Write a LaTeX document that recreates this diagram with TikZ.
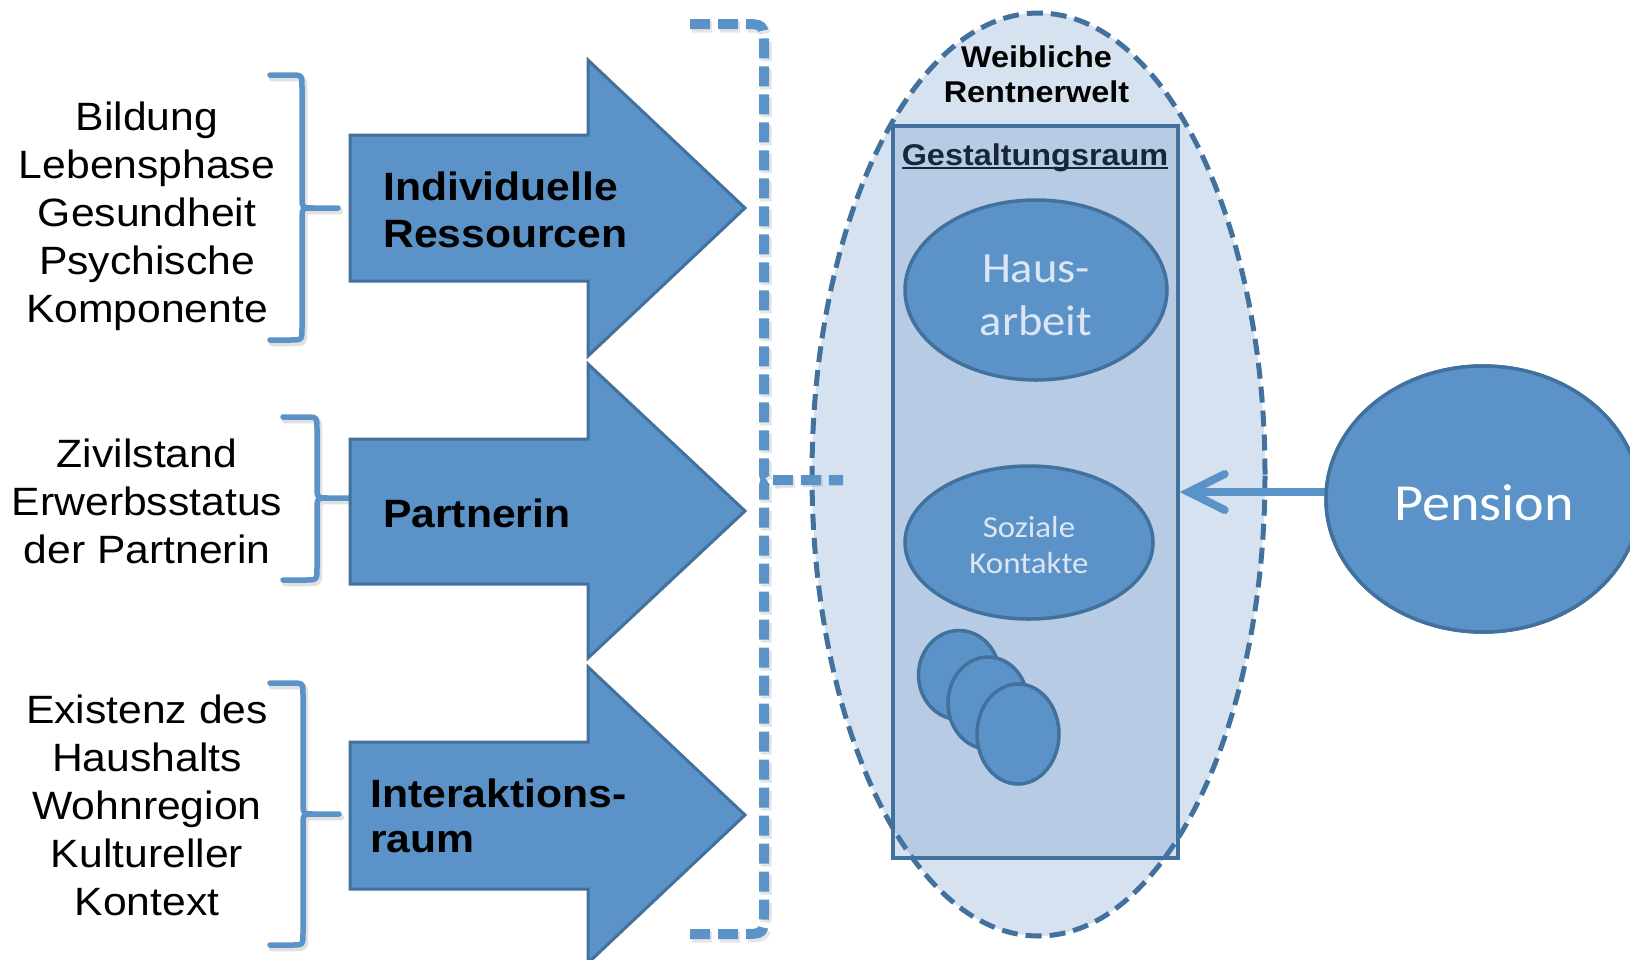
\documentclass[tikz,border=0pt]{standalone}
\usepackage{fontspec}
\usetikzlibrary{shapes.geometric,arrows.meta}
\newfontfamily\arialf[FakeStretch=1.08]{Liberation Sans}
\newfontfamily\calf[FakeStretch=1.08]{Carlito}
\definecolor{afill}{HTML}{5B93C8}
\definecolor{aline}{HTML}{41719C}
\definecolor{tint}{HTML}{4F81BD}
\definecolor{ltext}{HTML}{DCE6F2}
\definecolor{navy}{HTML}{17263A}
\newcommand\myul[1]{\setbox0\hbox{#1}\rlap{\rule[-4.4pt]{\wd0}{2.2pt}}\box0}
% x0, vx, top, mid, bot, tip
\newcommand\drawbrace[6]{%
  \draw[braceshadow] (#1,#3) -- ({#2-12},#3) .. controls (#2,#3) .. (#2,{#3+12}) -- (#2,{#4-12}) .. controls (#2,#4) .. ({#2+12},#4) -- (#6,#4)
     ({#2+12},#4) .. controls (#2,#4) .. (#2,{#4+12}) -- (#2,{#5-12}) .. controls (#2,#5) .. ({#2-12},#5) -- (#1,#5);
  \draw[bracestyle] (#1,#3) -- ({#2-12},#3) .. controls (#2,#3) .. (#2,{#3+12}) -- (#2,{#4-12}) .. controls (#2,#4) .. ({#2+12},#4) -- (#6,#4)
     ({#2+12},#4) .. controls (#2,#4) .. (#2,{#4+12}) -- (#2,{#5-12}) .. controls (#2,#5) .. ({#2-12},#5) -- (#1,#5);
}
\begin{document}
\begin{tikzpicture}[x=1pt,y=-1pt,
  bigarrow/.style={fill=afill,draw=aline,line width=3pt,line join=miter},
  bracestyle/.style={draw=afill,line width=5.5pt,line cap=round,line join=round},
  braceshadow/.style={draw=black,draw opacity=0.12,line width=6.5pt,line cap=round,shift={(2,3)}},
  dbracket/.style={draw=afill,line width=10pt,dash pattern=on 20pt off 8pt},
  dshadow/.style={draw=black,draw opacity=0.10,line width=11pt,dash pattern=on 20pt off 8pt,shift={(2,3)}},
  lefttext/.style={font=\arialf\fontsize{39.5}{48}\selectfont,align=center,anchor=base,inner sep=0pt},
  armlabel/.style={font=\arialf\bfseries\fontsize{39.5}{47}\selectfont,align=left,anchor=base west,inner sep=0pt},
  blob/.style={ellipse,fill=afill,draw=aline,line width=3.5pt,inner sep=0pt},
  tinted/.style={fill=tint,fill opacity=0.23,draw=aline,inner sep=0pt},
  blobtext/.style={text=ltext,align=center,anchor=base,inner sep=0pt}
]
\useasboundingbox (0,0) rectangle (1630,959);

% braces
\drawbrace{270}{302}{75}{208}{340}{338}
\drawbrace{283}{317}{417}{498}{580}{352}
\drawbrace{270}{303}{683}{814}{945}{339}

% big arrows
\draw[bigarrow] (350,135) -- (588,135) -- (588,60) -- (745,208) -- (588,356) -- (588,281) -- (350,281) -- cycle;
\draw[bigarrow] (350,439) -- (588,439) -- (588,364) -- (745,511) -- (588,658) -- (588,584) -- (350,584) -- cycle;
\draw[bigarrow] (350,742) -- (588,742) -- (588,667) -- (745,815) -- (588,963) -- (588,889) -- (350,889) -- cycle;

% left texts (anchor = baseline of last line)
\node[lefttext] (t1) at (147,322) {Bildung\\Lebensphase\\Gesundheit\\Psychische\\Komponente};
\node[lefttext] (t2) at (147,563) {Zivilstand\\Erwerbsstatus\\der Partnerin};
\node[lefttext] (t3) at (147,915) {Existenz des\\Haushalts\\Wohnregion\\Kultureller\\Kontext};

% arrow labels
\node[armlabel] (l1) at (383,247) {Individuelle\\Ressourcen};
\node[armlabel] (l2) at (383,527) {Partnerin};
\node[armlabel,font=\arialf\bfseries\fontsize{39.5}{45}\selectfont] (l3) at (370,852) {Interaktions-\\raum};

% world ellipse and design room
\node[tinted,ellipse,minimum width=453pt,minimum height=923pt,line width=5pt,dash pattern=on 16pt off 8pt] (welt) at (1038.5,474.5) {};
\node[tinted,rectangle,minimum width=285pt,minimum height=732pt,line width=3.5pt] (gest) at (1035.5,492) {};

% dashed bracket
\coordinate (bm) at (843,480);
\draw[dshadow] (690,24) -- (742,24) .. controls (764,24) .. (764,46) -- (764,468) .. controls (764,480) .. (776,480) -- (bm);
\draw[dshadow] (690,934) -- (742,934) .. controls (764,934) .. (764,912) -- (764,492) .. controls (764,480) .. (776,480);
\draw[dbracket] (690,24) -- (742,24) .. controls (764,24) .. (764,46) -- (764,468) .. controls (764,480) .. (776,480) -- (bm);
\draw[dbracket] (690,934) -- (742,934) .. controls (764,934) .. (764,912) -- (764,492) .. controls (764,480) .. (776,480);

\node[font=\arialf\bfseries\fontsize{30}{35}\selectfont,align=center,anchor=base,inner sep=0pt] (weib) at (1036.5,102) {Weibliche\\Rentnerwelt};
\node[font=\arialf\bfseries\fontsize{30}{35}\selectfont,text=navy,anchor=base,inner sep=0pt] (gtitle) at (1035,165) {\myul{Gestaltungsraum}};

% inner ellipses
\node[blob,minimum width=262pt,minimum height=180pt] (haus) at (1036,290) {};
\node[blobtext,font=\calf\fontsize{43}{53}\selectfont] (hausT) at (1036,335) {Haus-\\arbeit};
\node[blob,minimum width=248pt,minimum height=153pt] (sozial) at (1029,542.5) {};
\node[blobtext,font=\calf\fontsize{30.5}{36}\selectfont] (sozialT) at (1029,573) {Soziale\\Kontakte};
\node[blob,minimum width=81pt,minimum height=89pt] (e1) at (959,675) {};
\node[blob,minimum width=80pt,minimum height=92pt] (e2) at (988,703) {};
\node[blob,minimum width=82pt,minimum height=100pt] (e3) at (1018,734) {};

% pension
\node[blob,minimum width=314pt,minimum height=266pt] (pension) at (1483,499) {};
\draw[draw=afill,line width=8pt,line cap=round,-{Straight Barb[length=36pt,width=36pt,line cap=round]}] ([yshift=7pt]pension.west) -- (gest.east);
\node[blob,minimum width=314pt,minimum height=266pt] (pension2) at (1483,499) {};
\node[font=\calf\fontsize{52}{60}\selectfont,text=white,anchor=base,inner sep=0pt] (pensionT) at (1484,520) {Pension};
\end{tikzpicture}
\end{document}
